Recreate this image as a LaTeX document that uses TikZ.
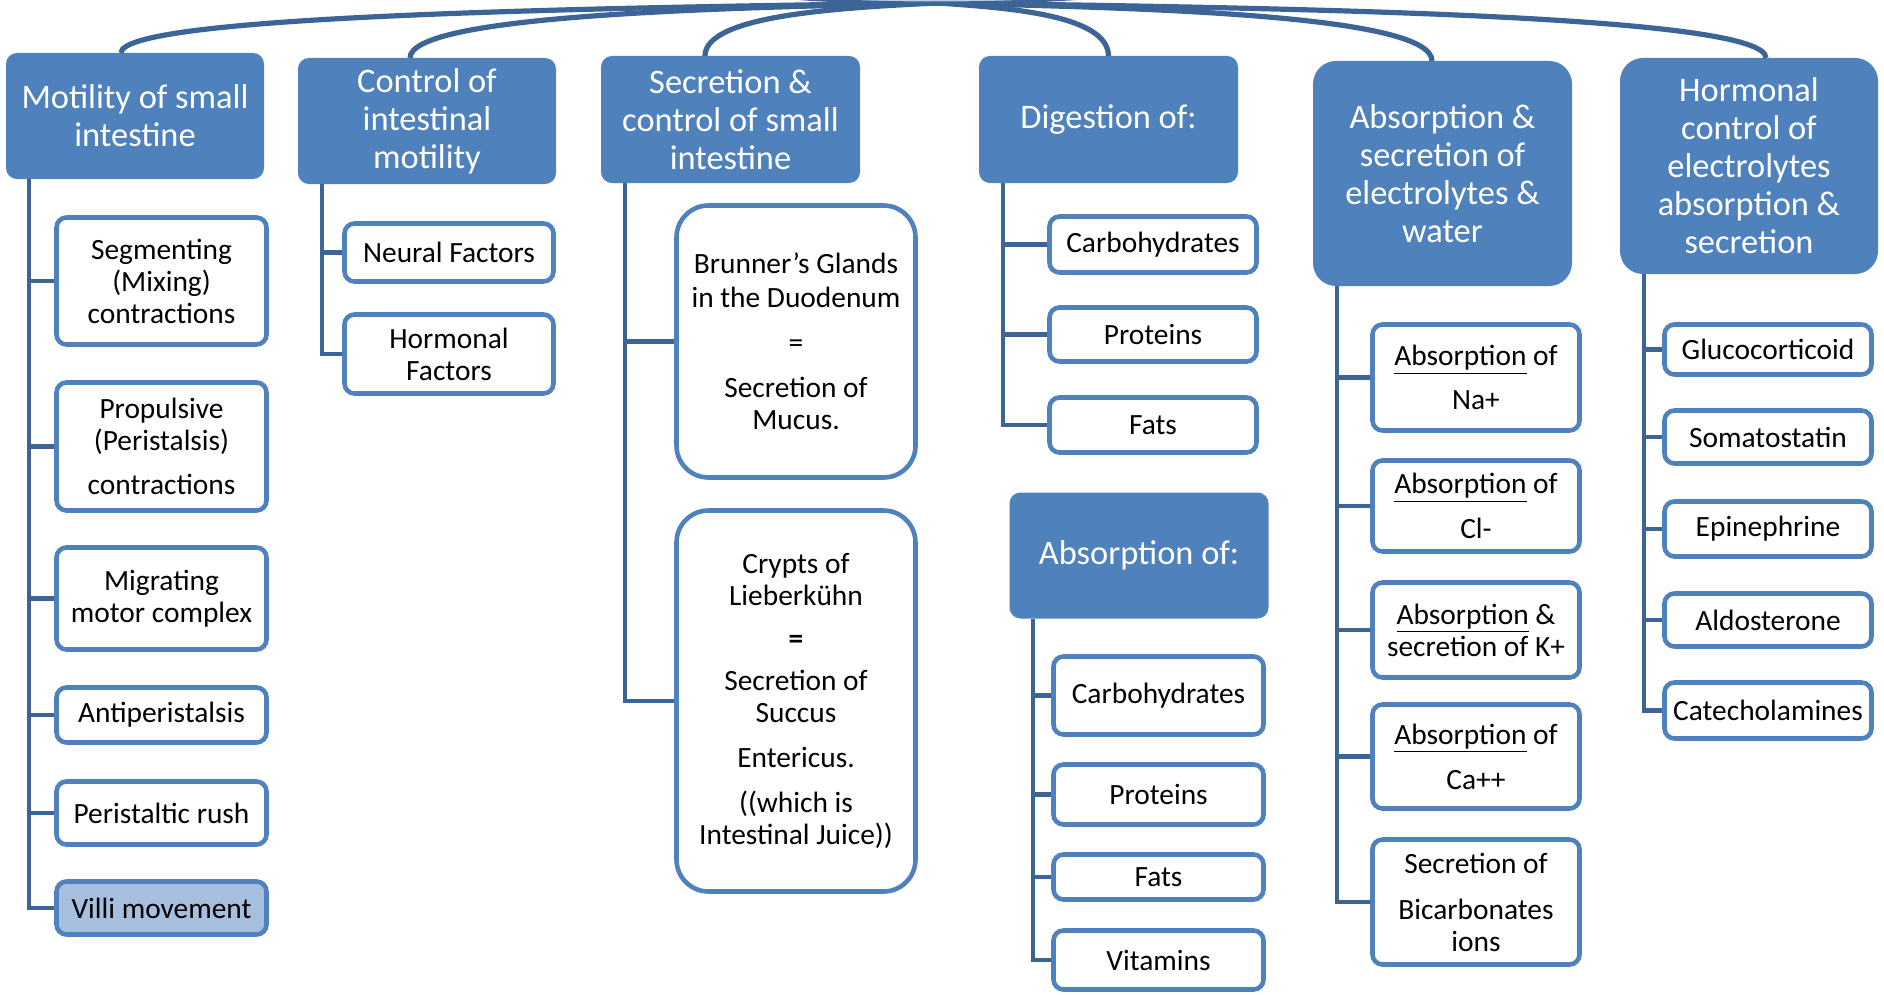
\documentclass[tikz,border=0pt]{standalone}
\usepackage{fontspec}
\setmainfont{Carlito}
\usetikzlibrary{shapes.geometric}
\definecolor{hdr}{HTML}{4F81BD}
\definecolor{lnk}{HTML}{3C6496}
\definecolor{villi}{HTML}{A7BFDE}
\definecolor{rootfill}{HTML}{B9CDE5}
\begin{document}
\begin{tikzpicture}[x=0.5pt,y=-0.5pt,
  hdrbox/.style={draw=hdr, fill=hdr, line width=1pt, rounded corners=5pt, text=white,
    align=center, inner sep=0pt, font=\fontsize{17.2}{19}\selectfont},
  kid/.style={draw=hdr, fill=white, line width=2.3pt, rounded corners=5pt, align=center,
    inner sep=0pt, font=\fontsize{14.7}{16}\selectfont},
  bigkid/.style={kid, rounded corners=16pt},
  link/.style={draw=lnk, line width=2.3pt, line join=miter},
  curve/.style={draw=lnk, line width=2.6pt},
  sz/.style 2 args={minimum width=#1pt, minimum height=#2pt},
]
\useasboundingbox (0,0) rectangle (1884,995);
\clip (0,0) rectangle (1884,995);

% ---------- headers ----------
\node[hdrbox, sz={128}{62}] (h1) at (135,116) {Motility of small\\intestine};
\node[hdrbox, sz={128}{62}] (h2) at (427,121) {Control of\\intestinal\\motility};
\node[hdrbox, sz={128.5}{62.5}] (h3) at (730.5,119.5) {Secretion \&\\control of small\\intestine};
\node[hdrbox, sz={128.5}{62.5}] (h4) at (1108.5,119.5) {Digestion of:};
\node[hdrbox, sz={128.5}{111.5}, rounded corners=11pt] (h5) at (1442.5,173.5) {Absorption \&\\secretion of\\electrolytes \&\\water};
\node[hdrbox, sz={128}{107}, rounded corners=11pt] (h6) at (1749,166) {Hormonal\\control of\\electrolytes\\absorption \&\\secretion};
\node[hdrbox, sz={128.5}{62}] (h7) at (1139,555.5) {Absorption of:};

% ---------- root and top connectors ----------
\draw[curve] (937,3) .. controls (570,8) and (121,16) .. ([xshift=-7pt]h1.north);
\draw[curve] (937,3) .. controls (700,8) and (410,16) .. ([xshift=-8.5pt]h2.north);
\draw[curve] (937,3) .. controls (833,8) and (705,16) .. ([xshift=-12.75pt]h3.north);
\draw[curve] (937,3) .. controls (1014,8) and (1108,16) .. (h4.north);
\draw[curve] (937,3) .. controls (1160,8) and (1432,16) .. ([xshift=-5.25pt]h5.north);
\draw[curve] (937,3) .. controls (1310,8) and (1766,16) .. ([xshift=8.5pt]h6.north);
\node[ellipse, draw=lnk, line width=1.5pt, fill=rootfill, minimum width=313pt, minimum height=43pt] (root) at (937,-40) {};

% ---------- column 1 ----------
\node[kid, sz={105}{63.5}] (seg) at (161.5,281) {Segmenting\\(Mixing)\\contractions};
\node[kid, sz={105}{64}] (prop) at (161.5,446.5) {Propulsive\\(Peristalsis)\\[6pt]contractions};
\node[kid, sz={105}{51}] (mig) at (161.5,598.5) {Migrating\\motor complex};
\node[kid, sz={105}{27.5}] (anti) at (161.5,715) {Antiperistalsis};
\node[kid, sz={105}{31.5}] (peri) at (161.5,813) {Peristaltic rush};
\node[kid, sz={105}{26.5}, fill=villi] (villi) at (161.5,908) {Villi movement};
\coordinate (l1) at (29,179);
\foreach \k in {seg,prop,mig,anti,peri,villi} \draw[link] (l1) |- (\k.west);

% ---------- column 2 ----------
\node[kid, sz={104.5}{29}] (neural) at (449,252.5) {Neural Factors};
\node[kid, sz={104.5}{39.5}] (hormf) at (449,354) {Hormonal\\Factors};
\coordinate (l2) at (322,184);
\foreach \k in {neural,hormf} \draw[link] (l2) |- (\k.west);

% ---------- column 3 ----------
\node[bigkid, sz={119.5}{136}] (brun) at (796,341.5) {Brunner’s Glands\\[1pt]in the Duodenum\\[6.5pt]=\\[6.5pt]Secretion of\\Mucus.};
\node[bigkid, sz={119.5}{190.5}] (crypt) at (796,701) {Crypts of\\Lieberkühn\\[5.5pt]\textbf{=}\\[5pt]Secretion of\\Succus\\[6.5pt]Entericus.\\[6.5pt]((which is\\Intestinal Juice))};
\coordinate (l3) at (625,183);
\foreach \k in {brun,crypt} \draw[link] (l3) |- (\k.west);

% ---------- column 4 ----------
\node[kid, sz={103.5}{28}] (dcarb) at (1153,244.5) {Carbohydrates};
\node[kid, sz={103.5}{27}] (dprot) at (1153,334.5) {Proteins};
\node[kid, sz={103.5}{27.5}] (dfat) at (1153,425) {Fats};
\coordinate (l4) at (1003,183);
\foreach \k in {dcarb,dprot,dfat} \draw[link] (l4) |- (\k.west);

\node[kid, sz={105}{39}] (acarb) at (1158.5,695.5) {Carbohydrates};
\node[kid, sz={105}{30}] (aprot) at (1158.5,794.5) {Proteins};
\node[kid, sz={105}{22.5}] (afat) at (1158.5,877) {Fats};
\node[kid, sz={105}{29.5}] (avit) at (1158.5,960) {Vitamins};
\coordinate (l7) at (1033,619);
\foreach \k in {acarb,aprot,afat,avit} \draw[link] (l7) |- (\k.west);

% ---------- column 5 ----------
\node[kid, sz={103.5}{53}] (na) at (1476,377.5) {\underline{Absorption} of\\[6pt]Na+};
\node[kid, sz={103.5}{45.5}] (cl) at (1476,506) {\underline{Absorption} of\\[6.5pt]Cl-};
\node[kid, sz={103.5}{47.5}] (kk) at (1476,630) {\underline{Absorption} \&\\secretion of K+};
\node[kid, sz={103.5}{52}] (ca) at (1476,756.5) {\underline{Absorption} of\\[6.5pt]Ca++};
\node[kid, sz={103.5}{62.5}] (bic) at (1476,902) {Secretion of\\[7pt]Bicarbonates\\ions};
\coordinate (l5) at (1337,286);
\foreach \k in {na,cl,kk,ca,bic} \draw[link] (l5) |- (\k.west);

% ---------- column 6 ----------
\node[kid, sz={103.5}{25}] (gluco) at (1768,349.5) {Glucocorticoid};
\node[kid, sz={103.5}{26.5}] (somato) at (1768,437) {Somatostatin};
\node[kid, sz={103.5}{27.5}] (epi) at (1768,529) {Epinephrine};
\node[kid, sz={103.5}{26.5}] (aldo) at (1768,620) {Aldosterone};
\node[kid, sz={103.5}{28}] (cat) at (1768,710.5) {Catecholamines};
\coordinate (l6) at (1644,274);
\foreach \k in {gluco,somato,epi,aldo,cat} \draw[link] (l6) |- (\k.west);
\end{tikzpicture}
\end{document}
